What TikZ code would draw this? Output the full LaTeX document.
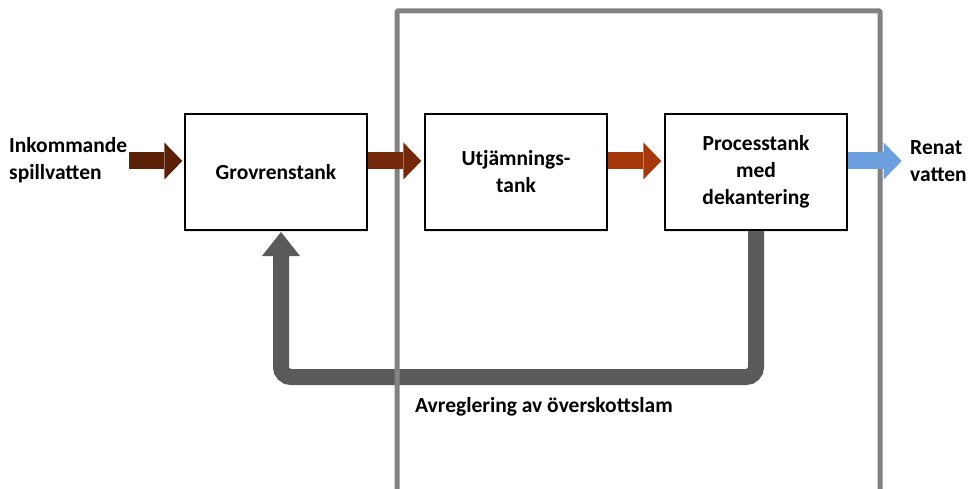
\documentclass[tikz,border=0pt]{standalone}
\usepackage{fontspec}
\setmainfont{Carlito}
\usepackage{tikz}
\usetikzlibrary{arrows.meta,calc,shadows}

\definecolor{inbrown}{HTML}{5A2107}
\definecolor{midbrown}{HTML}{74290B}
\definecolor{rust}{HTML}{A6390B}
\definecolor{cleanblue}{HTML}{6C9FDD}
\definecolor{pipegray}{HTML}{5A5A5A}
\definecolor{framegray}{HTML}{828282}

\begin{document}
\begin{tikzpicture}[x=1pt,y=-1pt,
    tank/.style={draw=black, line width=1.3pt, fill=white, minimum width=182pt, minimum height=116pt,
        align=center, font=\bfseries\fontsize{21.5}{27}\selectfont,
        drop shadow={opacity=0.2, shadow xshift=1pt, shadow yshift=-2.5pt}},
    flow/.style={line width=17pt, -{Triangle[length=18pt,width=37pt,line width=0pt]}},
    pipe/.style={pipegray, line width=16pt, rounded corners=10pt, -{Triangle[length=24pt,width=38pt,line width=0pt]}},
    lbl/.style={font=\bfseries\fontsize{21.5}{24}\selectfont, inner sep=0pt}]

        \useasboundingbox (0,0) rectangle (969,489);

        % the return line for excess sludge, under everything else
        \coordinate (sludge) at (281,232);
        \draw[pipe] (756,230) coordinate(procbottom) -- ++(0,147) -| (sludge);

        % frame around the process part
        \draw[framegray, line width=5pt, rounded corners=1pt] (397,489) -- (397,11) -- (880,11) -- (880,489);

        % tanks
        \node[tank] (grov) at (276,172) {Grovrenstank};
        \node[tank] (utj) at (516,172) {Utjämnings-\\tank};
        \node[tank] (proc) at (756,172) {Processtank\\med\\dekantering};

        % texts
        \node[lbl, anchor=west, align=left] (inflow) at (9,160) {Inkommande\\[3pt]spillvatten};
        \node[lbl, anchor=west, align=left] (outflow) at (910,161) {Renat\\[3pt]vatten};
        \node[lbl, anchor=west] (sludgelbl) at (415,407) {Avreglering av överskottslam};

        % flows
        \draw[flow, inbrown] ($(grov.west)+(-55,-11)$) -- ($(grov.west)+(-2,-11)$);
        \draw[flow, midbrown] (grov.east |- 0,161) -- ($(utj.west)+(-3,-11)$);
        \draw[flow, rust] (utj.east |- 0,161) -- ($(proc.west)+(-3,-11)$);
        \draw[flow, cleanblue] (proc.east |- 0,161) -- ++(54,0) coordinate(outtip);

    \end{tikzpicture}
\end{document}
